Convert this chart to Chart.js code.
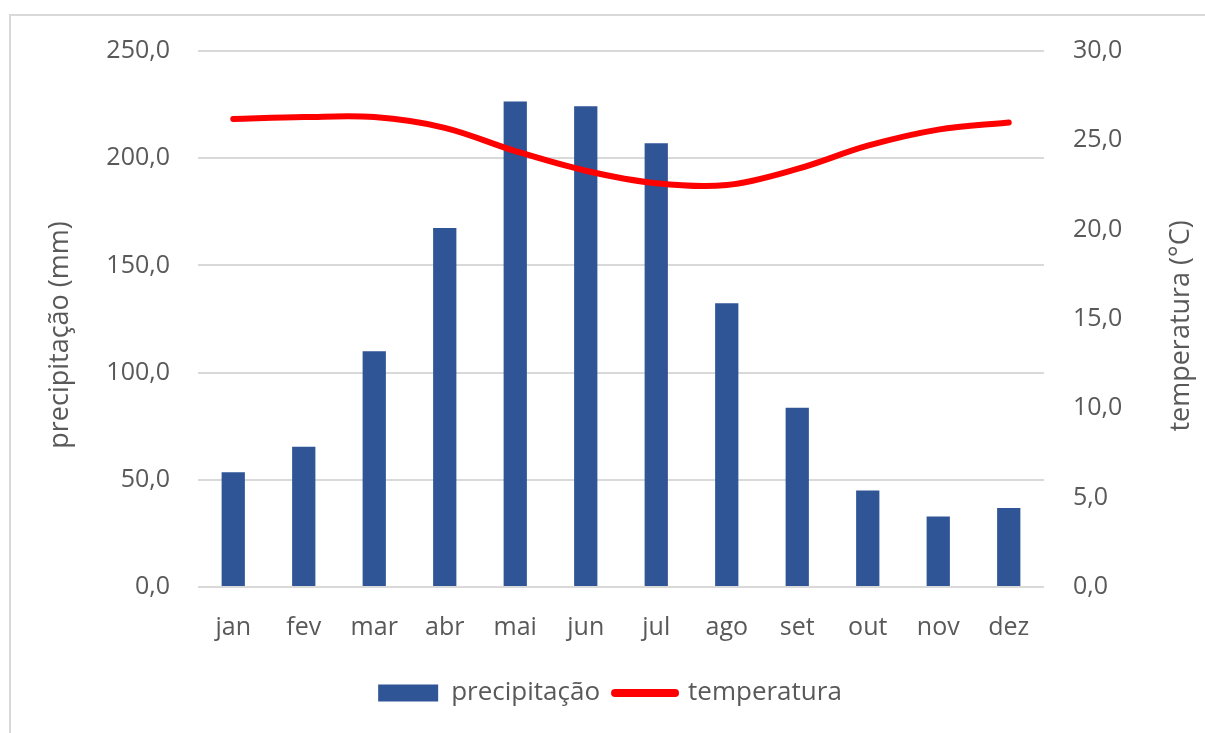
<!DOCTYPE html>
<html>
<head>
<meta charset="utf-8">
<script src="https://cdn.jsdelivr.net/npm/chart.js@4"></script>
<style>
  html, body { margin: 0; padding: 0; background: #fff; overflow: hidden; }
  #wrap { position: relative; width: 1205px; height: 733px; }
  #frame { position: absolute; left: 9px; top: 14px; right: -20px; bottom: -20px;
           border-left: 2px solid #d9d9d9; border-top: 2px solid #d9d9d9; }
  canvas { position: absolute; left: 0; top: 0; }
</style>
</head>
<body>
<div id="wrap">
  <div id="frame"></div>
  <canvas id="climaChart" width="1205" height="733"></canvas>
</div>
<script>
// Monthly values
const meses = ["jan", "fev", "mar", "abr", "mai", "jun", "jul", "ago", "set", "out", "nov", "dez"];
const precipitacao = [53.5, 65.4, 110.0, 167.5, 226.5, 224.2, 207.0, 132.3, 83.6, 45.0, 32.9, 36.8];
const temperatura = [26.2, 26.3, 26.3, 25.7, 24.4, 23.3, 22.6, 22.5, 23.4, 24.7, 25.6, 26.0];

const TEXT = "#595959";
const FONT = "'Open Sans', sans-serif";
Chart.defaults.color = TEXT;
Chart.defaults.font.family = FONT;

const fmt = (v) => Number(v).toFixed(1).replace(".", ",");

// Both axis titles read bottom-to-top, as in Excel (Chart.js flips the right one)
const axisTitles = {
  id: "axisTitles",
  afterDraw(chart) {
    const c = chart.ctx;
    const area = chart.chartArea;
    const mid = (area.top + area.bottom) / 2;
    const items = [
      { text: "precipitação (mm)", x: chart.scales.y.left + 41, y: mid + 16 },
      { text: "temperatura (°C)", x: chart.scales.y1.right - 20, y: mid + 7 },
    ];
    c.save();
    c.fillStyle = TEXT;
    c.font = "27px " + FONT;
    c.textAlign = "center";
    c.textBaseline = "middle";
    items.forEach((t) => {
      c.save();
      c.translate(t.x, t.y);
      c.rotate(-Math.PI / 2);
      c.fillText(t.text, 0, 0);
      c.restore();
    });
    c.restore();
  },
};

const ctx = document.getElementById("climaChart").getContext("2d");
const climaChart = new Chart(ctx, {
  type: "bar",
  data: {
    labels: meses,
    datasets: [
      {
        type: "bar",
        label: "precipitação",
        data: precipitacao,
        backgroundColor: "#2f5597",
        borderWidth: 0,
        barPercentage: 0.33,
        categoryPercentage: 1.0,
        yAxisID: "y",
        order: 1,
      },
      {
        type: "line",
        label: "temperatura",
        data: temperatura,
        borderColor: "#ff0000",
        backgroundColor: "#ff0000",
        borderWidth: 6,
        borderCapStyle: "round",
        pointRadius: 0,
        tension: 0.35,
        yAxisID: "y1",
        order: 0,
      },
    ],
  },
  plugins: [axisTitles],
  options: {
    responsive: false,
    animation: false,
    layout: { padding: { left: 19, right: 4, top: 51, bottom: 17 } },
    plugins: {
      tooltip: { enabled: false },
      legend: {
        position: "bottom",
        labels: {
          color: TEXT,
          font: { size: 26 },
          usePointStyle: true,
          pointStyleWidth: 60,
          boxHeight: 17,
          padding: 15,
          sort: (a, b) => a.datasetIndex - b.datasetIndex,
          generateLabels: (chart) => {
            const items = Chart.defaults.plugins.legend.labels.generateLabels(chart);
            items.forEach((it) => {
              if (it.datasetIndex === 0) {
                it.pointStyle = "rect";
                it.lineWidth = 0;
                it.fillStyle = "#2f5597";
              } else {
                it.pointStyle = "line";
                it.lineWidth = 8;
                it.strokeStyle = "#ff0000";
                it.lineCap = "round";
              }
            });
            return items;
          },
        },
      },
    },
    scales: {
      x: {
        grid: { display: false },
        border: { display: false },
        ticks: { padding: 18, font: { size: 25 }, color: TEXT },
        afterFit: (axis) => { axis.height = 78; },
      },
      y: {
        position: "left",
        min: 0,
        max: 250,
        ticks: { stepSize: 50, padding: 28, font: { size: 25 }, color: TEXT, callback: fmt },
        grid: { color: "#d9d9d9", lineWidth: 2, drawTicks: false },
        border: { display: false },
        afterFit: (axis) => { axis.width = 179; },
      },
      y1: {
        position: "right",
        min: 0,
        max: 30,
        ticks: { stepSize: 5, padding: 29, font: { size: 25 }, color: TEXT, callback: fmt },
        grid: { display: false, drawTicks: false },
        border: { display: false },
        afterFit: (axis) => { axis.width = 157; },
      },
    },
  },
});
</script>
</body>
</html>
